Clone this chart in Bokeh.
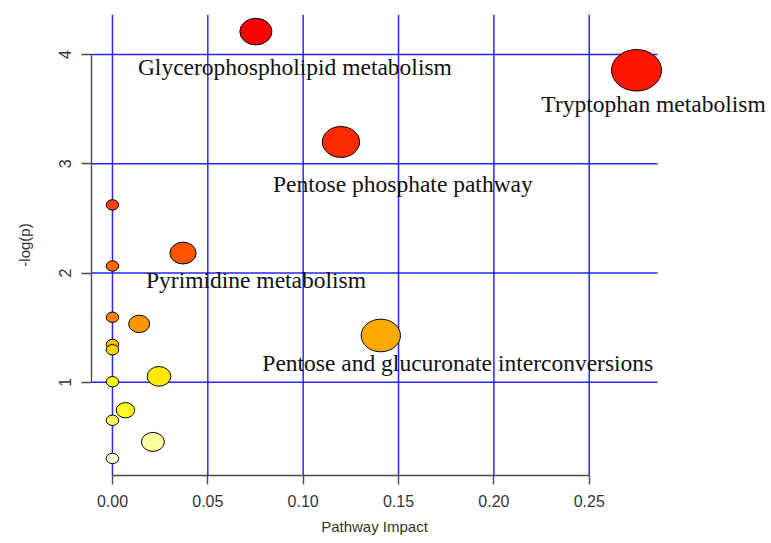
import colorsys
import numpy as np
from bokeh.plotting import figure
from bokeh.models import (ColumnDataSource, Range1d, FixedTicker, NumeralTickFormatter,
                          LabelSet, Title)
from bokeh.embed import file_html
from bokeh.resources import INLINE

# ---------------- data ----------------
# pathway impact (x) and -log(p) (y), sorted by -log(p) decreasing
impact = [0.0752, 0.2748, 0.1198, 0.0, 0.037, 0.0, 0.0, 0.014, 0.1407,
          0.0, 0.0, 0.0244, 0.0, 0.0068, 0.0, 0.0212, 0.0]
neglogp = [4.21, 3.856, 3.20, 2.624, 2.183, 2.065, 1.596, 1.535, 1.429,
           1.347, 1.298, 1.055, 1.006, 0.745, 0.653, 0.455, 0.304]

label_names = ["Glycerophospholipid metabolism", "Tryptophan metabolism",
               "Pentose phosphate pathway", "Pyrimidine metabolism",
               "Pentose and glucuronate interconversions"]
label_index = [0, 1, 2, 4, 8]

x_ticks = [0.0, 0.05, 0.10, 0.15, 0.20, 0.25]
y_ticks = [1, 2, 3, 4]
x_title = "Pathway Impact"
y_title = "-log(p)"

# ---------------- styles ----------------
label_dx = [39, 17, 62, 73, 77]     # pixel offsets of the labels from their points
label_dy = [35, 34, 42, 27, 28]
ELLIPSE_ASPECT = 0.83               # picture is stretched horizontally


def heat_colors(n):
    """R's heat.colors(n)"""
    j = n // 4
    i = n - j
    cols = []
    for k in range(i):
        h = (1 / 6) * k / (i - 1) if i > 1 else 0
        cols.append(colorsys.hsv_to_rgb(h, 1, 1))
    if j > 0:
        for s in np.linspace(1 - 1 / (2 * j), 1 / (2 * j), j):
            cols.append(colorsys.hsv_to_rgb(1 / 6, s, 1))
    return ["#%02X%02X%02X" % (round(r * 255), round(g * 255), round(b * 255)) for r, g, b in cols]


x = np.array(impact)
y = np.array(neglogp)

# circle radius from impact (MetaboAnalyst rule), in x data units
sqx = np.sqrt(x)
mn, mx = sqx.min(), sqx.max()
maxR = (mx - mn) / 40
minR = (mx - mn) / 160
radius = minR + (maxR - minR) * (sqx - mn) / (mx - mn)

# R-like 4% range expansion (the plot region)
xpad = (x.max() - x.min()) * 0.04
ypad = (y.max() - y.min()) * 0.04
x0, x1 = x.min() - xpad, x.max() + xpad
y0, y1 = y.min() - ypad, y.max() + ypad

W, H = 771, 543
BL, BT, BB = 91, 14, 68
REGION_W = 566                      # pixel width of the R plot region
frame_w = W - BL
frame_h = H - BT - BB
px_per_x = REGION_W / (x1 - x0)
px_per_y = frame_h / (y1 - y0)
x_end = x0 + frame_w / px_per_x     # frame extends to the right edge so labels are not clipped

widths = 2 * radius
heights = widths * px_per_x / px_per_y * ELLIPSE_ASPECT

src = ColumnDataSource(dict(x=x, y=y, w=widths, h=heights, color=heat_colors(len(x))))

lab = ColumnDataSource(dict(
    x=[x[i] for i in label_index],
    y=[y[i] for i in label_index],
    text=label_names,
    dx=label_dx,
    dy=[-d for d in label_dy],
))

p = figure(width=W, height=H, x_range=Range1d(x0, x_end), y_range=Range1d(y0, y1),
           output_backend="svg", toolbar_location=None,
           min_border_left=BL, min_border_right=0, min_border_top=BT, min_border_bottom=BB)
p.outline_line_color = None
p.background_fill_color = "white"
p.border_fill_color = "white"
p.xgrid.visible = False
p.ygrid.visible = False

# axes
p.xaxis.ticker = FixedTicker(ticks=x_ticks)
p.xaxis.formatter = NumeralTickFormatter(format="0.00")
p.yaxis.ticker = FixedTicker(ticks=y_ticks)
p.xaxis.bounds = (0, 0.25)
p.yaxis.bounds = (1, 4)
for ax in (p.xaxis, p.yaxis):
    ax.axis_line_color = "#4a4a4a"
    ax.axis_line_width = 1.4
    ax.major_tick_line_color = "#4a4a4a"
    ax.major_tick_line_width = 1.4
    ax.major_tick_in = 0
    ax.minor_tick_line_color = None
    ax.major_label_text_font = "Liberation Sans"
    ax.major_label_text_font_size = "16px"
    ax.major_label_text_color = "#333333"
    ax.axis_label_text_font = "Liberation Sans"
    ax.axis_label_text_font_size = "15px"
    ax.axis_label_text_font_style = "normal"
    ax.axis_label_text_color = "#333333"
p.xaxis.major_tick_out = 9
p.xaxis.major_label_standoff = 10
p.yaxis.major_tick_out = 10
p.yaxis.major_label_standoff = 10
p.yaxis.major_label_orientation = "vertical"
p.yaxis.axis_label = y_title
p.yaxis.axis_label_standoff = 24

# x-axis title centred under the R plot region (not the whole frame)
TITLE_FONT_PX = 15
title_text_w = 7.114 * TITLE_FONT_PX        # Arial/Liberation Sans advance width of the string
p.add_layout(Title(text=x_title, align="left",
                   offset=REGION_W / 2 - title_text_w / 2,
                   text_font="Liberation Sans", text_font_size=f"{TITLE_FONT_PX}px",
                   text_font_style="normal", text_color="#333333", standoff=12), "below")

# grid lines across the R plot region only
GRID = dict(line_color="#0000FF", line_width=1.5, line_alpha=0.85, level="underlay")
p.segment(x0=x_ticks, y0=[y0] * len(x_ticks), x1=x_ticks, y1=[y1] * len(x_ticks), **GRID)
p.segment(x0=[x0] * len(y_ticks), y0=y_ticks, x1=[x1] * len(y_ticks), y1=y_ticks, **GRID)

p.ellipse(x="x", y="y", width="w", height="h", source=src,
          fill_color="color", line_color="black", line_width=1)

labels = LabelSet(x="x", y="y", text="text", x_offset="dx", y_offset="dy", source=lab,
                  text_font="Liberation Serif", text_font_size="23.5px",
                  text_align="center", text_baseline="middle", text_color="#111111")
p.add_layout(labels)

open("out.html", "w").write(file_html(p, INLINE))
